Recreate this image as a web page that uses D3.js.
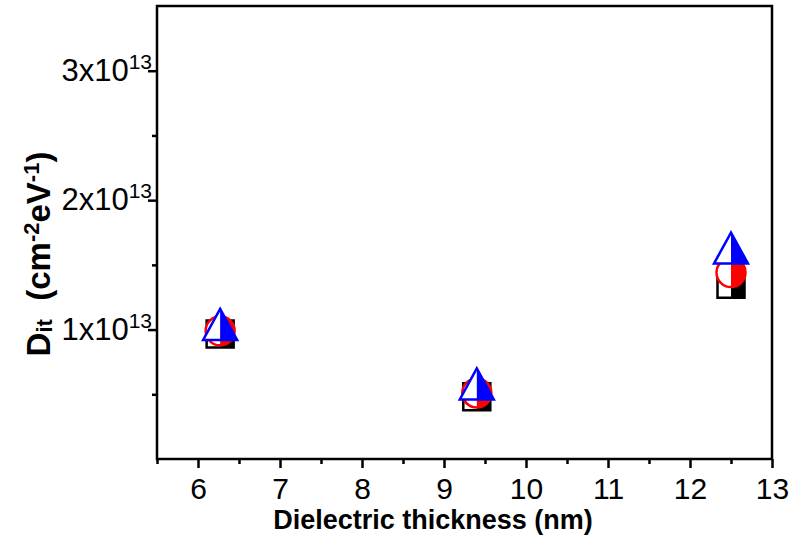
<!DOCTYPE html>
<html>
<head>
<meta charset="utf-8">
<script src="https://cdn.jsdelivr.net/npm/d3@7"></script>
<style>
  html, body { margin: 0; padding: 0; background: #fff; }
  svg { display: block; font-family: "Liberation Sans", Arial, sans-serif; }
</style>
</head>
<body>
<svg id="chart" width="790" height="540"></svg>
<script>
// Interface trap density versus dielectric thickness
const thickness   = [6.27, 9.4, 12.5];
const ditSquare   = [0.965e13, 0.48e13, 1.35e13];
const ditCircle   = [0.99e13, 0.51e13, 1.44e13];
const ditTriangle = [1.04e13, 0.58e13, 1.63e13];

const xMajorTicks = [6, 7, 8, 9, 10, 11, 12, 13];
const xMinorTicks = [5.5, 6.5, 7.5, 8.5, 9.5, 10.5, 11.5, 12.5];
const yMajorTicks = [1e13, 2e13, 3e13];
const yMinorTicks = [0.5e13, 1.5e13, 2.5e13];
const yTickMantissa = ["1x10", "2x10", "3x10"];
const yTickExponent = "13";

const svg = d3.select("#chart");
const plotL = 157, plotR = 772, plotT = 6, plotB = 459;

const x = d3.scaleLinear().domain([5.5, 13]).range([plotL, plotR]);
const y = d3.scaleLinear().domain([0, 3.5e13]).range([plotB, plotT]);

// frame
svg.append("rect")
  .attr("x", plotL).attr("y", plotT)
  .attr("width", plotR - plotL).attr("height", plotB - plotT)
  .attr("fill", "none").attr("stroke", "#000").attr("stroke-width", 2.5);

// x axis: major + minor ticks pointing out
const xAxis = svg.append("g").attr("transform", `translate(0,${plotB})`)
  .call(d3.axisBottom(x).tickValues(xMajorTicks).tickSize(9).tickPadding(10).tickFormat(d3.format("d")));
svg.append("g").attr("transform", `translate(0,${plotB})`)
  .call(d3.axisBottom(x).tickValues(xMinorTicks).tickSize(5).tickFormat(""));

// y axis
svg.append("g").attr("transform", `translate(${plotL},0)`)
  .call(d3.axisLeft(y).tickValues(yMajorTicks).tickSize(9).tickFormat(""));
svg.append("g").attr("transform", `translate(${plotL},0)`)
  .call(d3.axisLeft(y).tickValues(yMinorTicks).tickSize(5).tickFormat(""));

svg.selectAll(".domain").remove();
svg.selectAll(".tick line").attr("stroke", "#000").attr("stroke-width", 2.5);
xAxis.selectAll(".tick text")
  .attr("fill", "#000").attr("font-size", 30)
  .attr("font-family", "Liberation Sans, Arial, sans-serif");

// y tick labels with superscript exponent
const yLab = svg.append("g");
yMajorTicks.forEach((v, i) => {
  const t = yLab.append("text")
    .attr("x", plotL - 5).attr("y", y(v) + 10)
    .attr("text-anchor", "end")
    .attr("font-size", 31).attr("fill", "#000");
  t.append("tspan").text(yTickMantissa[i]);
  t.append("tspan").attr("font-size", 21).attr("dy", -12).text(yTickExponent);
});

// axis titles
svg.append("text")
  .attr("x", 433).attr("y", 529)
  .attr("text-anchor", "middle")
  .attr("font-size", 27).attr("font-weight", "bold")
  .text("Dielectric thickness (nm)");

const yt = svg.append("text")
  .attr("transform", "translate(50,254) rotate(-90)")
  .attr("text-anchor", "middle")
  .attr("font-size", 33).attr("font-weight", "bold");
yt.append("tspan").text("D");
yt.append("tspan").attr("font-size", 22).attr("dy", 2).text("it");
yt.append("tspan").attr("dy", -2).text("\u00a0\u00a0(cm");
yt.append("tspan").attr("font-size", 22).attr("dy", -11).text("-2");
yt.append("tspan").attr("dy", 11).text("eV");
yt.append("tspan").attr("font-size", 22).attr("dy", -11).text("-1");
yt.append("tspan").attr("dy", 11).text(")");

// half-filled markers: white left half, coloured right half, outlined
const sq = 27, cr = 14.5, triW = 34, triH = 31;
const shapes = {
  square: {
    whole: `M${-sq/2},${-sq/2}H${sq/2}V${sq/2}H${-sq/2}Z`,
    half:  `M0,${-sq/2}H${sq/2}V${sq/2}H0Z`
  },
  circle: {
    whole: `M0,${-cr}A${cr},${cr} 0 1 1 0,${cr}A${cr},${cr} 0 1 1 0,${-cr}Z`,
    half:  `M0,${-cr}A${cr},${cr} 0 0 1 0,${cr}Z`
  },
  triangle: {
    whole: `M0,${-triH/2}L${triW/2},${triH/2}H${-triW/2}Z`,
    half:  `M0,${-triH/2}L${triW/2},${triH/2}H0Z`
  }
};
const series = [
  { name: "square",   values: ditSquare,   color: "#000000" },
  { name: "circle",   values: ditCircle,   color: "#ff0000" },
  { name: "triangle", values: ditTriangle, color: "#0000ff" }
];

series.forEach(s => {
  const g = svg.append("g");
  const pts = g.selectAll("g").data(thickness.map((t, i) => ({ t, v: s.values[i] })))
    .join("g")
    .attr("transform", d => `translate(${x(d.t)},${y(d.v)})`);
  pts.append("path").attr("d", shapes[s.name].whole).attr("fill", "#fff");
  pts.append("path").attr("d", shapes[s.name].half).attr("fill", s.color);
  pts.append("path").attr("d", shapes[s.name].whole)
    .attr("fill", "none").attr("stroke", s.color).attr("stroke-width", 2.5)
    .attr("stroke-linejoin", "miter");
});
</script>
</body>
</html>
